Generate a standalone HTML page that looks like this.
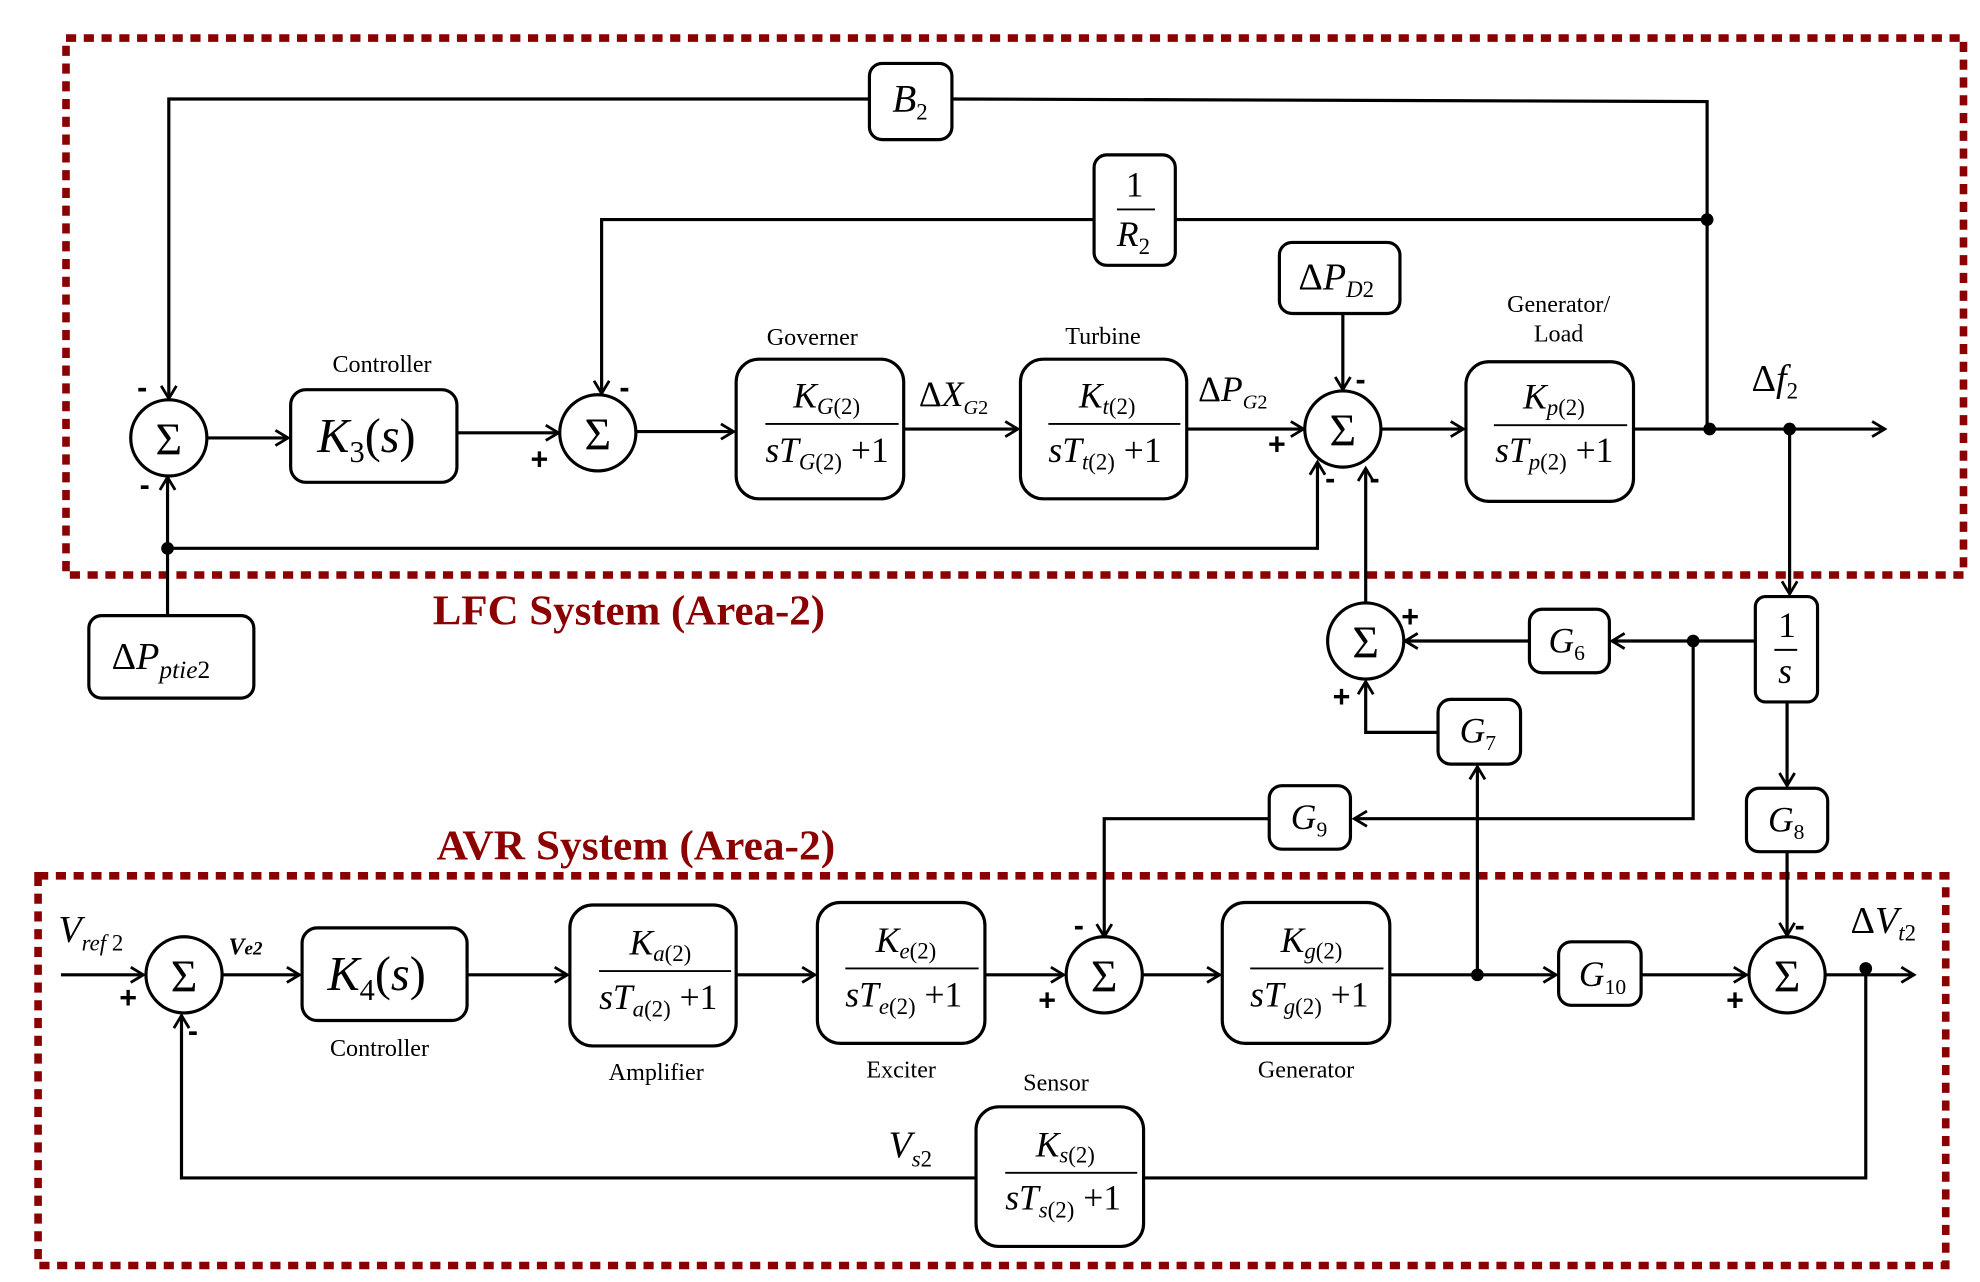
<!DOCTYPE html>
<html><head><meta charset="utf-8"><style>
html,body{margin:0;padding:0;background:#fff;}
svg{display:block;}
.m{font-family:"Liberation Serif",serif;font-style:italic;fill:#000;}
.n{font-family:"Liberation Serif",serif;fill:#000;}
.lbl{font-family:"Liberation Sans Narrow","Liberation Serif",serif;font-size:19px;fill:#000;}
.t{font-family:"Liberation Serif",serif;font-weight:bold;font-size:33px;fill:#8b0000;}
.sg{font-family:"Liberation Sans",sans-serif;font-weight:bold;font-size:24px;fill:#000;}
</style></head><body>
<svg width="1980" height="1282" viewBox="0 0 1560 1010" preserveAspectRatio="none" xmlns="http://www.w3.org/2000/svg">
<defs>
<marker id="a" markerWidth="14" markerHeight="14" refX="11" refY="7" orient="auto" markerUnits="userSpaceOnUse">
<path d="M1,1 L11,7 L1,13" fill="none" stroke="#000" stroke-width="2.2"/>
</marker>
</defs>
<rect x="52" y="30" width="1495" height="423" fill="none" stroke="#8b0000" stroke-width="6" stroke-dasharray="8,6"/>
<rect x="30" y="690" width="1503" height="307" fill="none" stroke="#8b0000" stroke-width="6" stroke-dasharray="8,6"/>

<g stroke="#000" stroke-width="2.5" fill="none">
<line x1="163" y1="345" x2="227" y2="345" marker-end="url(#a)"/>
<line x1="360" y1="341" x2="440" y2="341" marker-end="url(#a)"/>
<line x1="501" y1="340" x2="578" y2="340" marker-end="url(#a)"/>
<line x1="712" y1="338" x2="802" y2="338" marker-end="url(#a)"/>
<line x1="935" y1="338" x2="1027" y2="338" marker-end="url(#a)"/>
<line x1="1088" y1="338" x2="1153" y2="338" marker-end="url(#a)"/>
<line x1="1287" y1="338" x2="1485" y2="338" marker-end="url(#a)"/>
<polyline points="685,78 133,78 133,314" marker-end="url(#a)"/>
<polyline points="750,78 1345,80 1345,338"/>
<polyline points="862,173 474,173 474,310" marker-end="url(#a)"/>
<line x1="926" y1="173" x2="1345" y2="173"/>
<line x1="1058" y1="247" x2="1058" y2="307" marker-end="url(#a)"/>
<line x1="132" y1="485" x2="132" y2="376" marker-end="url(#a)"/>
<polyline points="132,432 1038,432 1038,364" marker-end="url(#a)"/>
<line x1="1410" y1="338" x2="1410" y2="468" marker-end="url(#a)"/>
<line x1="1408" y1="553" x2="1408" y2="619" marker-end="url(#a)"/>
<line x1="1383" y1="505" x2="1270" y2="505" marker-end="url(#a)"/>
<line x1="1205" y1="505" x2="1107" y2="505" marker-end="url(#a)"/>
<line x1="1076" y1="475" x2="1076" y2="369" marker-end="url(#a)"/>
<polyline points="1133,577 1076,577 1076,537" marker-end="url(#a)"/>
<polyline points="1334,505 1334,645 1067,645" marker-end="url(#a)"/>
<polyline points="1000,645 870,645 870,738" marker-end="url(#a)"/>
<line x1="1408" y1="671" x2="1408" y2="737" marker-end="url(#a)"/>
<line x1="48" y1="768" x2="113" y2="768" marker-end="url(#a)"/>
<line x1="175" y1="768" x2="236" y2="768" marker-end="url(#a)"/>
<line x1="368" y1="768" x2="447" y2="768" marker-end="url(#a)"/>
<line x1="580" y1="768" x2="642" y2="768" marker-end="url(#a)"/>
<line x1="776" y1="768" x2="838" y2="768" marker-end="url(#a)"/>
<line x1="900" y1="768" x2="961" y2="768" marker-end="url(#a)"/>
<line x1="1095" y1="768" x2="1226" y2="768" marker-end="url(#a)"/>
<line x1="1164" y1="768" x2="1164" y2="604" marker-end="url(#a)"/>
<line x1="1293" y1="768" x2="1376" y2="768" marker-end="url(#a)"/>
<line x1="1438" y1="768" x2="1508" y2="768" marker-end="url(#a)"/>
<polyline points="1470,768 1470,928 901,928"/>
<polyline points="769,928 143,928 143,800" marker-end="url(#a)"/>

<circle cx="133" cy="345" r="30" fill="#fff"/>
<circle cx="471" cy="341" r="30" fill="#fff"/>
<circle cx="1058" cy="338" r="30" fill="#fff"/>
<circle cx="1076" cy="505" r="30" fill="#fff"/>
<circle cx="145" cy="768" r="30" fill="#fff"/>
<circle cx="870" cy="768" r="30" fill="#fff"/>
<circle cx="1408" cy="768" r="30" fill="#fff"/>

<rect x="229" y="307" width="131" height="73" rx="12" fill="#fff"/>
<rect x="580" y="283" width="132" height="110" rx="18" fill="#fff"/>
<rect x="804" y="283" width="131" height="110" rx="18" fill="#fff"/>
<rect x="1155" y="285" width="132" height="110" rx="18" fill="#fff"/>
<rect x="685" y="50" width="65" height="60" rx="10" fill="#fff"/>
<rect x="862" y="122" width="64" height="87" rx="10" fill="#fff"/>
<rect x="1008" y="191" width="95" height="56" rx="10" fill="#fff"/>
<rect x="70" y="485" width="130" height="65" rx="10" fill="#fff"/>
<rect x="1383" y="470" width="49" height="83" rx="8" fill="#fff"/>
<rect x="1205" y="480" width="63" height="50" rx="10" fill="#fff"/>
<rect x="1133" y="551" width="65" height="51" rx="10" fill="#fff"/>
<rect x="1000" y="619" width="64" height="50" rx="10" fill="#fff"/>
<rect x="1376" y="621" width="64" height="50" rx="10" fill="#fff"/>
<rect x="238" y="731" width="130" height="73" rx="12" fill="#fff"/>
<rect x="449" y="713" width="131" height="111" rx="18" fill="#fff"/>
<rect x="644" y="711" width="132" height="111" rx="18" fill="#fff"/>
<rect x="963" y="711" width="132" height="111" rx="18" fill="#fff"/>
<rect x="1228" y="742" width="65" height="50" rx="10" fill="#fff"/>
<rect x="769" y="872" width="132" height="110" rx="18" fill="#fff"/>
<line x1="603" y1="334" x2="708" y2="334" stroke-width="1.5"/>
<line x1="826" y1="334" x2="930" y2="334" stroke-width="1.5"/>
<line x1="1177" y1="335" x2="1282" y2="335" stroke-width="1.5"/>
<line x1="880" y1="165" x2="910" y2="165" stroke-width="1.5"/>
<line x1="1398" y1="512" x2="1416" y2="512" stroke-width="1.5"/>
<line x1="472" y1="765" x2="576" y2="765" stroke-width="1.5"/>
<line x1="666" y1="763" x2="771" y2="763" stroke-width="1.5"/>
<line x1="985" y1="763" x2="1090" y2="763" stroke-width="1.5"/>
<line x1="792" y1="924" x2="896" y2="924" stroke-width="1.5"/>
</g>
<g fill="#000">
<circle cx="1345" cy="173" r="5"/><circle cx="1347" cy="338" r="5"/><circle cx="1410" cy="338" r="5"/>
<circle cx="132" cy="432" r="5"/><circle cx="1334" cy="505" r="5"/><circle cx="1164" cy="768" r="5"/><circle cx="1470" cy="763" r="5"/>
</g>

<g class="n" font-size="36" text-anchor="middle">
<text x="133" y="358">Σ</text><text x="471" y="354">Σ</text><text x="1058" y="351">Σ</text><text x="1076" y="518">Σ</text>
<text x="145" y="781">Σ</text><text x="870" y="781">Σ</text><text x="1408" y="781">Σ</text>
</g>
<g class="sg">
<text x="108" y="313">-</text><text x="110" y="390">-</text><text x="418" y="370">+</text><text x="488" y="313">-</text>
<text x="999" y="358">+</text><text x="1068" y="307">-</text><text x="1044" y="385">-</text><text x="1079" y="385">-</text>
<text x="1104" y="494">+</text><text x="1050" y="557">+</text>
<text x="94" y="794">+</text><text x="148" y="820">-</text><text x="818" y="796">+</text><text x="846" y="737">-</text>
<text x="1360" y="796">+</text><text x="1414" y="737">-</text>
</g>

<g class="lbl" text-anchor="middle">
<text x="301" y="293">Controller</text>
<text x="640" y="272">Governer</text>
<text x="869" y="271">Turbine</text>
<text x="1228" y="246">Generator/</text>
<text x="1228" y="269">Load</text>
<text x="299" y="832">Controller</text>
<text x="517" y="851">Amplifier</text>
<text x="710" y="849">Exciter</text>
<text x="832" y="859">Sensor</text>
<text x="1029" y="849">Generator</text>
</g>
<text class="t" x="341" y="492" textLength="309" lengthAdjust="spacingAndGlyphs">LFC System (Area-2)</text>
<text class="t" x="344" y="677" textLength="314" lengthAdjust="spacingAndGlyphs">AVR System (Area-2)</text>

<g class="m">
<text x="250" y="356" font-size="38">K<tspan font-size="24" dy="8" font-style="normal">3</tspan><tspan dy="-8" font-style="normal">(</tspan>s<tspan font-style="normal">)</tspan></text>
<text x="258" y="780" font-size="38">K<tspan font-size="24" dy="8" font-style="normal">4</tspan><tspan dy="-8" font-style="normal">(</tspan>s<tspan font-style="normal">)</tspan></text>
<g font-size="28">
<text x="625" y="321">K<tspan font-size="18" dy="5">G<tspan font-style="normal">(2)</tspan></tspan></text>
<text x="603" y="364">sT<tspan font-size="18" dy="6">G<tspan font-style="normal">(2)</tspan></tspan><tspan dy="-6" font-style="normal"> +1</tspan></text>
<text x="850" y="321">K<tspan font-size="18" dy="5">t<tspan font-style="normal">(2)</tspan></tspan></text>
<text x="826" y="364">sT<tspan font-size="18" dy="6">t<tspan font-style="normal">(2)</tspan></tspan><tspan dy="-6" font-style="normal"> +1</tspan></text>
<text x="1200" y="322">K<tspan font-size="18" dy="5">p<tspan font-style="normal">(2)</tspan></tspan></text>
<text x="1178" y="364">sT<tspan font-size="18" dy="6">p<tspan font-style="normal">(2)</tspan></tspan><tspan dy="-6" font-style="normal"> +1</tspan></text>
<text x="496" y="752">K<tspan font-size="18" dy="5">a<tspan font-style="normal">(2)</tspan></tspan></text>
<text x="472" y="795">sT<tspan font-size="18" dy="6">a<tspan font-style="normal">(2)</tspan></tspan><tspan dy="-6" font-style="normal"> +1</tspan></text>
<text x="690" y="750">K<tspan font-size="18" dy="5">e<tspan font-style="normal">(2)</tspan></tspan></text>
<text x="666" y="793">sT<tspan font-size="18" dy="6">e<tspan font-style="normal">(2)</tspan></tspan><tspan dy="-6" font-style="normal"> +1</tspan></text>
<text x="1009" y="750">K<tspan font-size="18" dy="5">g<tspan font-style="normal">(2)</tspan></tspan></text>
<text x="985" y="793">sT<tspan font-size="18" dy="6">g<tspan font-style="normal">(2)</tspan></tspan><tspan dy="-6" font-style="normal"> +1</tspan></text>
<text x="816" y="911">K<tspan font-size="18" dy="5">s<tspan font-style="normal">(2)</tspan></tspan></text>
<text x="792" y="953">sT<tspan font-size="18" dy="6">s<tspan font-style="normal">(2)</tspan></tspan><tspan dy="-6" font-style="normal"> +1</tspan></text>
<text x="703" y="88" font-size="31">B<tspan font-size="18" dy="6" font-style="normal">2</tspan></text>
<text x="887" y="155" font-style="normal">1</text>
<text x="880" y="194">R<tspan font-size="18" dy="6" font-style="normal">2</tspan></text>
<text x="1023" y="228" font-size="30"><tspan font-style="normal">Δ</tspan>P<tspan font-size="18" dy="6">D<tspan font-style="normal">2</tspan></tspan></text>
<text x="88" y="527" font-size="30"><tspan font-style="normal">Δ</tspan>P<tspan font-size="20" dy="7">ptie<tspan font-style="normal">2</tspan></tspan></text>
<text x="1401" y="502" font-style="normal">1</text>
<text x="1401" y="538">s</text>
<text x="1220" y="514">G<tspan font-size="17" dy="6" font-style="normal">6</tspan></text>
<text x="1150" y="585">G<tspan font-size="17" dy="6" font-style="normal">7</tspan></text>
<text x="1017" y="653">G<tspan font-size="17" dy="6" font-style="normal">9</tspan></text>
<text x="1393" y="655">G<tspan font-size="17" dy="6" font-style="normal">8</tspan></text>
<text x="1244" y="777">G<tspan font-size="17" dy="6" font-style="normal">10</tspan></text>
<text x="724" y="320"><tspan font-style="normal">Δ</tspan>X<tspan font-size="16" dy="6">G<tspan font-style="normal">2</tspan></tspan></text>
<text x="944" y="316"><tspan font-style="normal">Δ</tspan>P<tspan font-size="16" dy="6">G<tspan font-style="normal">2</tspan></tspan></text>
<text x="1380" y="308" font-size="30"><tspan font-style="normal">Δ</tspan>f<tspan font-size="18" dy="6" font-style="normal">2</tspan></text>
<text x="1458" y="735" font-size="30"><tspan font-style="normal">Δ</tspan>V<tspan font-size="18" dy="6">t<tspan font-style="normal">2</tspan></tspan></text>
<text x="46" y="742" font-size="30">V<tspan font-size="18" dy="7">ref<tspan font-style="normal"> 2</tspan></tspan></text>
<text x="700" y="912" font-size="30">V<tspan font-size="18" dy="7">s<tspan font-style="normal">2</tspan></tspan></text>
</g>
<text x="180" y="752" font-size="19" font-weight="bold" class="m">V<tspan font-size="15">e2</tspan></text>
</svg>
</body></html>
